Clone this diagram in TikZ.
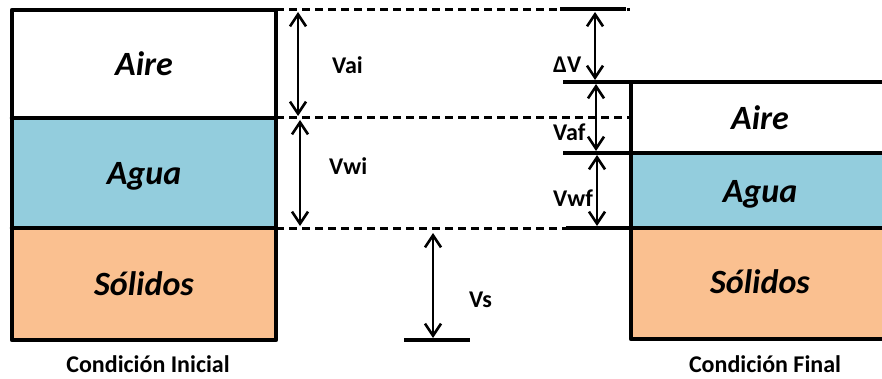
\documentclass[tikz,border=0pt]{standalone}
\usepackage{fontspec}
\setmainfont{Carlito}
\usetikzlibrary{arrows.meta}
\definecolor{agua}{HTML}{93CDDD}
\definecolor{solido}{HTML}{FAC090}
\begin{document}
\begin{tikzpicture}[x=1pt,y=-1pt,
  boxline/.style={line width=4.5pt, line join=round, line cap=round},
  phase/.style={inner sep=0pt, anchor=base, font=\bfseries\itshape\fontsize{34}{40}\selectfont},
  dimarrow/.style={line width=2.6pt, {Straight Barb[length=12pt,width=16pt,line width=2.6pt]}-{Straight Barb[length=12pt,width=16pt,line width=2.6pt]}},
  guide/.style={line width=3pt, dash pattern=on 8pt off 5pt},
  tick/.style={line width=3.5pt},
  lbl/.style={inner sep=0pt, anchor=base west, font=\bfseries\fontsize{24}{28}\selectfont},
  caption/.style={inner sep=0pt, anchor=base, font=\bfseries\fontsize{24}{28}\selectfont}]
\useasboundingbox (0,0) rectangle (882,379);

% ---- left column (initial) ----
\fill[white]  (12,10)  rectangle (276,118);
\fill[agua]   (12,118) rectangle (276,228);
\fill[solido] (12,228) rectangle (276,340);
\draw[boxline] (12,118) -- (276,118);
\draw[boxline] (12,228) -- (276,228);
\draw[boxline] (12,10) rectangle (276,340);
\node[phase] (aireI) at (144,76) {Aire};
\node[phase] (aguaI) at (144,185) {Agua};
\node[phase] (solI)  at (144,295) {Sólidos};
\node[caption] (capI) at (148,372) {Condición Inicial};

% ---- right column (final) ----
\fill[white]  (631,82)  rectangle (890,153);
\fill[agua]   (631,153) rectangle (890,228);
\fill[solido] (631,228) rectangle (890,339);
\draw[boxline] (631,153) -- (890,153);
\draw[boxline] (631,228) -- (890,228);
\draw[boxline] (890,82) -- (631,82) -- (631,339) -- (890,339);
\node[phase] (aireF) at (760,130) {Aire};
\node[phase] (aguaF) at (760,203) {Agua};
\node[phase] (solF)  at (760,293) {Sólidos};
\node[caption] (capF) at (765,372) {Condición Final};

% ---- guide lines ----
\coordinate (g1a) at (276,10);  \coordinate (g1b) at (630,10);
\coordinate (g2a) at (276,118); \coordinate (g2b) at (630,118);
\coordinate (g3a) at (276,228); \coordinate (g3b) at (566,228);
\draw[guide] (g1a) -- (g1b);
\draw[guide] (g2a) -- (g2b);
\draw[guide] (g3a) -- (g3b);

\coordinate (t0a) at (560,9);   \coordinate (t0b) at (626,9);
\coordinate (t1a) at (563,82);  \coordinate (t1b) at (631,82);
\coordinate (t2a) at (563,153); \coordinate (t2b) at (631,153);
\coordinate (t3a) at (566,228); \coordinate (t3b) at (631,228);
\coordinate (t4a) at (404,340); \coordinate (t4b) at (470,340);
\draw[tick] (t0a) -- (t0b);
\draw[tick] (t1a) -- (t1b);
\draw[tick] (t2a) -- (t2b);
\draw[tick] (t3a) -- (t3b);
\draw[tick] (t4a) -- (t4b);

% ---- dimension arrows ----
\coordinate (a1) at (298,12);  \coordinate (a2) at (298,116);
\coordinate (b1) at (300,120); \coordinate (b2) at (300,226);
\coordinate (s1) at (433,233); \coordinate (s2) at (433,338);
\coordinate (d1) at (595,12);  \coordinate (d2) at (595,80);
\coordinate (f1) at (596,84);  \coordinate (f2) at (596,151);
\coordinate (w1) at (597,155); \coordinate (w2) at (597,226);
\draw[dimarrow] (a1) -- (a2);
\draw[dimarrow] (b1) -- (b2);
\draw[dimarrow] (s1) -- (s2);
\draw[dimarrow] (d1) -- (d2);
\draw[dimarrow] (f1) -- (f2);
\draw[dimarrow] (w1) -- (w2);

% ---- labels ----
\node[lbl] (lvai) at (332,74)  {Vai};
\node[lbl] (lvwi) at (329,175) {Vwi};
\node[lbl] (lvs)  at (469,307) {Vs};
\node[lbl] (ldv)  at (553,73)  {ΔV};
\node[lbl] (lvaf) at (553,141) {Vaf};
\node[lbl] (lvwf) at (553,207) {Vwf};
\end{tikzpicture}
\end{document}
